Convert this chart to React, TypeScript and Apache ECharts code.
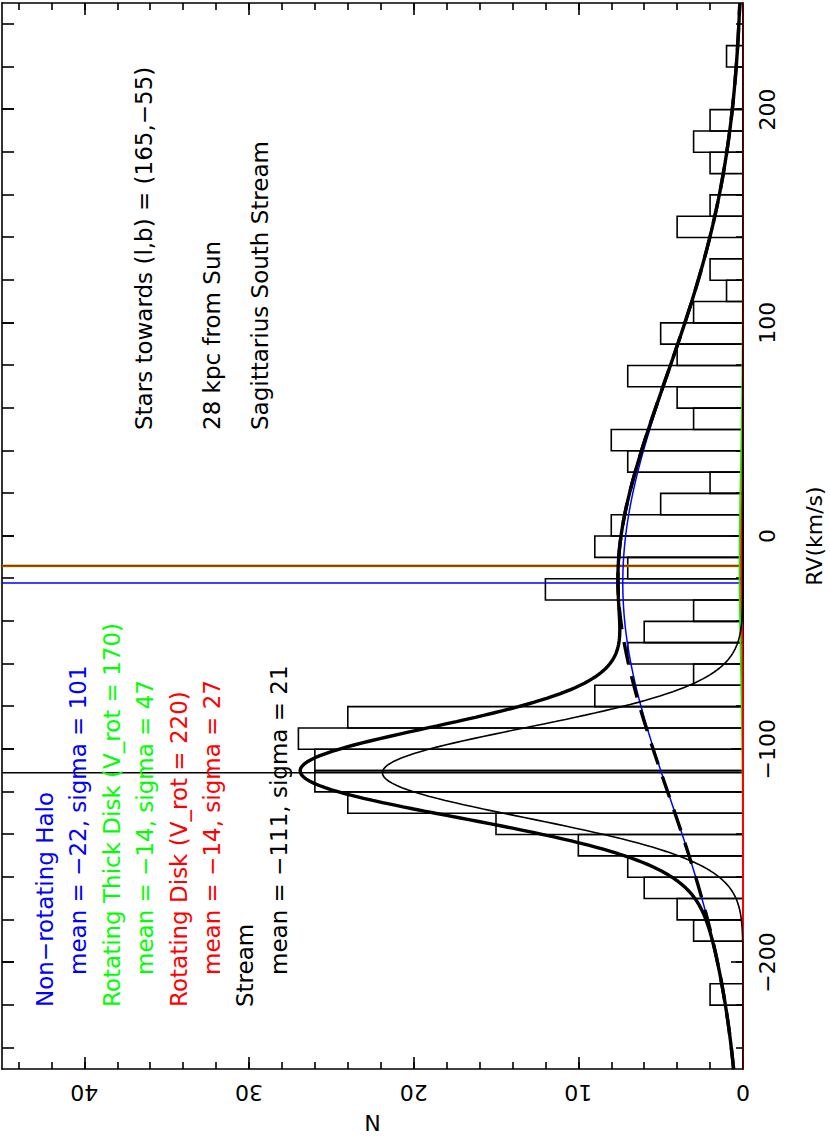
import React, { useEffect, useRef } from "react";
import * as echarts from "echarts";

// ---- Data ----
// Histogram: lower edge of each 10 km/s bin and the number of stars in it
const binStarts = [-250, -240, -230, -220, -210, -200, -190, -180, -170, -160, -150, -140, -130, -120, -110, -100, -90, -80, -70, -60, -50, -40, -30, -20, -10, 0, 10, 20, 30, 40, 50, 60, 70, 80, 90, 100, 110, 120, 130, 140, 150, 160, 170, 180, 190, 200, 210, 220, 230, 240];
const binCounts = [0, 0, 0, 2, 0, 0, 3, 4, 6, 7, 10, 15, 24, 26, 26, 27, 24, 9, 3, 7, 6, 3, 12, 7, 9, 8, 5, 2, 7, 8, 3, 4, 7, 4, 5, 3, 1, 2, 0, 4, 2, 0, 2, 3, 2, 0, 0, 1, 0, 0];
const binWidth = 10;

// Gaussian model components (halo, thick disk, thin disk, stream)
const componentNames = ["Non\u2212rotating Halo", "Rotating Thick Disk (V_rot = 170)", "Rotating Disk (V_rot = 220)", "Stream"];
const componentMeans = [-22, -14, -14, -111];
const componentSigmas = [101, 47, 27, 21];
const componentPeaks = [7.3, 0.2, 0.1, 21.9]; // N per bin at the mean
const componentColors = ["#0000ff", "#00ff00", "#ff0000", "#000000"];

// Axis ticks
const rvMajorTicks = [-200, -100, 0, 100, 200];
const rvMinorTicks = [-240, -220, -200, -180, -160, -140, -120, -100, -80, -60, -40, -20, 0, 20, 40, 60, 80, 100, 120, 140, 160, 180, 200, 220, 240];
const nMajorTicks = [0, 10, 20, 30, 40];
const nMinorTicks = [0, 2, 4, 6, 8, 10, 12, 14, 16, 18, 20, 22, 24, 26, 28, 30, 32, 34, 36, 38, 40, 42, 44];

const infoLines = ["Stars towards (l,b) = (165,\u221255)", "28 kpc from Sun", "Sagittarius South Stream"];

const RV_MIN = -250;
const RV_MAX = 250;
const N_MAX = 45;
const FONT = "DejaVu Sans";

const fmt = (v: number) => (v < 0 ? "\u2212" + Math.abs(v) : String(v));

function gauss(i: number, x: number) {
  const d = x - componentMeans[i];
  return componentPeaks[i] * Math.exp(-(d * d) / (2 * componentSigmas[i] * componentSigmas[i]));
}

function curve(parts: number[]) {
  const pts: number[][] = [];
  for (let x = RV_MIN; x <= RV_MAX; x += 1) {
    let s = 0;
    for (const p of parts) s += gauss(p, x);
    pts.push([x, s]);
  }
  return pts;
}

export default function App() {
  const ref = useRef<HTMLDivElement>(null);

  useEffect(() => {
    if (!ref.current) return;
    const chart = echarts.init(ref.current, null, { renderer: "svg" });

    const lineCol = { color: "#000", width: 1.6 };
    const histData = binStarts
      .map((s, i) => [s, s + binWidth, binCounts[i]])
      .filter((d) => d[2] > 0);

    const vline = (m: number, color: string, width: number, z: number) => ({
      type: "line",
      data: [
        [m, 0],
        [m, N_MAX],
      ],
      showSymbol: false,
      silent: true,
      lineStyle: { color, width },
      z,
    });

    const curveSeries = (data: number[][], color: string, width: number, z: number, type: any = "solid") => ({
      type: "line",
      data,
      showSymbol: false,
      silent: true,
      lineStyle: { color, width, type, cap: "butt" },
      z,
    });

    const txt = (x: number, y: number, text: string, color = "#000") => ({
      type: "text",
      x,
      y,
      style: { text, fill: color, font: `23px "${FONT}"`, textVerticalAlign: "middle", textAlign: "left" },
      z: 100,
    });

    const legendText = [
      { t: componentNames[0], c: componentColors[0], indent: false },
      { t: `mean = ${fmt(componentMeans[0])}, sigma = ${componentSigmas[0]}`, c: componentColors[0], indent: true },
      { t: componentNames[1], c: componentColors[1], indent: false },
      { t: `mean = ${fmt(componentMeans[1])}, sigma = ${componentSigmas[1]}`, c: componentColors[1], indent: true },
      { t: componentNames[2], c: componentColors[2], indent: false },
      { t: `mean = ${fmt(componentMeans[2])}, sigma = ${componentSigmas[2]}`, c: componentColors[2], indent: true },
      { t: componentNames[3], c: componentColors[3], indent: false },
      { t: `mean = ${fmt(componentMeans[3])}, sigma = ${componentSigmas[3]}`, c: componentColors[3], indent: true },
    ];

    const labelStyle = { fontSize: 22, color: "#000", fontFamily: FONT };

    const option: any = {
      animation: false,
      backgroundColor: "#fff",
      grid: { left: 68, right: 3, top: 2, bottom: 83, containLabel: false },
      xAxis: [
        {
          type: "value",
          min: RV_MIN,
          max: RV_MAX,
          position: "bottom",
          axisLine: { show: true, onZero: false, lineStyle: lineCol },
          axisTick: { show: true, inside: true, length: 12, customValues: rvMajorTicks, lineStyle: lineCol },
          axisLabel: { show: true, customValues: rvMajorTicks, formatter: (v: number) => fmt(v), margin: 13, ...labelStyle },
          splitLine: { show: false },
          name: "RV(km/s)",
          nameLocation: "middle",
          nameGap: 60,
          nameTextStyle: labelStyle,
        },
        {
          type: "value",
          min: RV_MIN,
          max: RV_MAX,
          position: "bottom",
          axisLine: { show: false, onZero: false },
          axisTick: { show: true, inside: true, length: 7, customValues: rvMinorTicks, lineStyle: lineCol },
          axisLabel: { show: false },
          splitLine: { show: false },
        },
        {
          type: "value",
          min: RV_MIN,
          max: RV_MAX,
          position: "top",
          axisLine: { show: true, onZero: false, lineStyle: lineCol },
          axisTick: { show: true, inside: true, length: 12, customValues: rvMajorTicks, lineStyle: lineCol },
          axisLabel: { show: false },
          splitLine: { show: false },
        },
        {
          type: "value",
          min: RV_MIN,
          max: RV_MAX,
          position: "top",
          axisLine: { show: false, onZero: false },
          axisTick: { show: true, inside: true, length: 12, customValues: rvMinorTicks, lineStyle: lineCol },
          axisLabel: { show: false },
          splitLine: { show: false },
        },
      ],
      yAxis: [
        {
          type: "value",
          min: 0,
          max: N_MAX,
          position: "left",
          axisLine: { show: true, onZero: false, lineStyle: lineCol },
          axisTick: { show: true, inside: true, length: 12, customValues: nMajorTicks, lineStyle: lineCol },
          axisLabel: { show: true, customValues: nMajorTicks, rotate: 90, margin: 12, ...labelStyle },
          splitLine: { show: false },
          name: "N",
          nameLocation: "middle",
          nameGap: 38,
          nameRotate: 90,
          nameTextStyle: labelStyle,
        },
        {
          type: "value",
          min: 0,
          max: N_MAX,
          position: "left",
          axisLine: { show: false, onZero: false },
          axisTick: { show: true, inside: true, length: 7, customValues: nMinorTicks, lineStyle: lineCol },
          axisLabel: { show: false },
          splitLine: { show: false },
        },
        {
          type: "value",
          min: 0,
          max: N_MAX,
          position: "right",
          axisLine: { show: true, onZero: false, lineStyle: lineCol },
          axisTick: { show: true, inside: true, length: 12, customValues: nMajorTicks, lineStyle: lineCol },
          axisLabel: { show: false },
          splitLine: { show: false },
        },
        {
          type: "value",
          min: 0,
          max: N_MAX,
          position: "right",
          axisLine: { show: false, onZero: false },
          axisTick: { show: true, inside: true, length: 7, customValues: nMinorTicks, lineStyle: lineCol },
          axisLabel: { show: false },
          splitLine: { show: false },
        },
      ],
      series: [
        {
          type: "custom",
          data: histData,
          silent: true,
          encode: { x: [0, 1], y: 2 },
          z: 2,
          renderItem: (params: any, api: any) => {
            const p1 = api.coord([api.value(0), 0]);
            const p2 = api.coord([api.value(1), api.value(2)]);
            return {
              type: "rect",
              shape: { x: p1[0], y: p2[1], width: p2[0] - p1[0], height: p1[1] - p2[1] },
              style: { fill: "none", stroke: "#000", lineWidth: 1.6 },
            };
          },
        },
        vline(componentMeans[1], componentColors[1], 2.6, 3),
        vline(componentMeans[2], componentColors[2], 1.8, 4),
        vline(componentMeans[0], componentColors[0], 1.6, 4),
        vline(componentMeans[3], "#000", 1.6, 4),
        curveSeries(curve([1]), componentColors[1], 2, 5),
        curveSeries(curve([2]), componentColors[2], 2, 6),
        curveSeries(curve([0]), componentColors[0], 1.5, 6),
        curveSeries(curve([3]), "#000", 1.6, 7),
        curveSeries(curve([0, 1, 2]), "#000", 3.4, 8, [22, 13]),
        curveSeries(curve([0, 1, 2, 3]), "#000", 3.4, 9),
      ],
      graphic: [
        txt(711, 144, infoLines[0]),
        txt(711, 212, infoLines[1]),
        txt(711, 260, infoLines[2]),
        ...legendText.map((l, i) => txt(l.indent ? 166 : 134, 45 + i * 33.4, l.t, l.c)),
      ],
    };

    chart.setOption(option);
    return () => chart.dispose();
  }, []);

  return (
    <div style={{ position: "fixed", left: 0, top: 0, width: 830, height: 1141, overflow: "hidden", background: "#fff" }}>
      <div
        style={{
          position: "absolute",
          left: 0,
          top: 0,
          width: 1141,
          height: 830,
          transformOrigin: "0 0",
          transform: "translate(0px, 1141px) rotate(-90deg)",
        }}
      >
        <div ref={ref} style={{ width: 1141, height: 830 }} />
      </div>
    </div>
  );
}
